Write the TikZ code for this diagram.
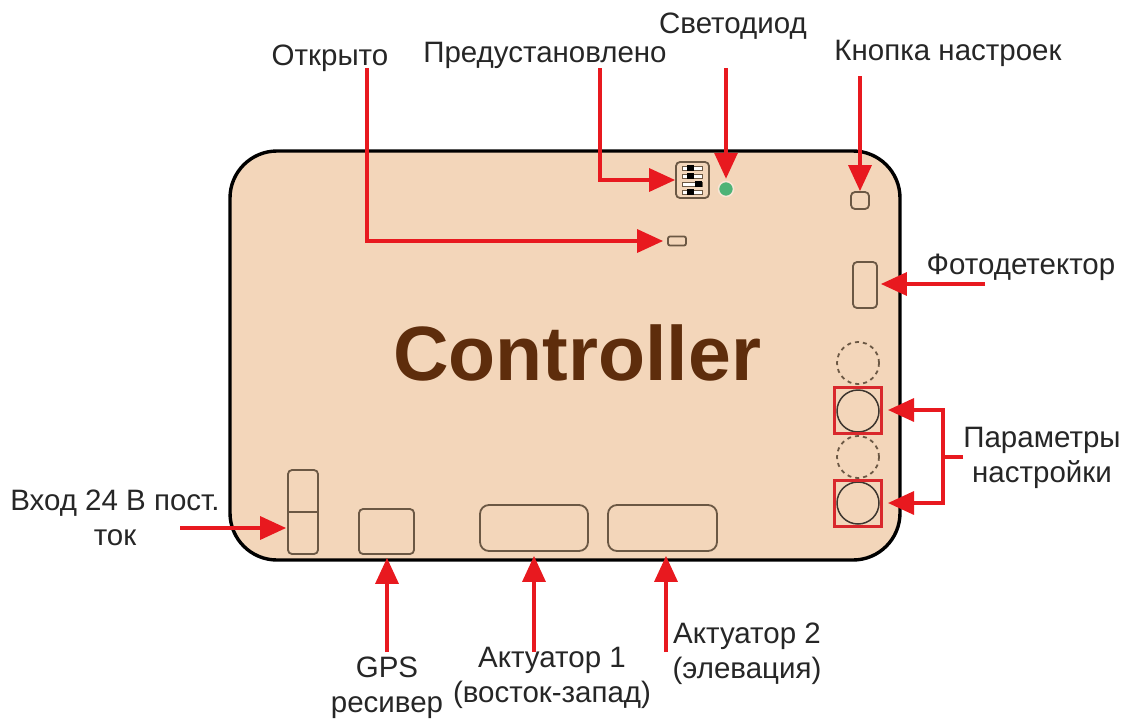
\documentclass[tikz,border=0pt]{standalone}
\usepackage{fontspec}
\setmainfont{Liberation Sans}
\usetikzlibrary{arrows.meta,positioning,calc}
\definecolor{boardfill}{HTML}{F3D6BA}
\definecolor{partline}{HTML}{6B5844}
\definecolor{wirered}{HTML}{E8191F}
\definecolor{boxred}{HTML}{D9282C}
\definecolor{ctrlbrown}{HTML}{5E2D0C}
\definecolor{ledgreen}{HTML}{4DB377}
\definecolor{lbltext}{HTML}{262626}
\tikzset{
 part/.style={draw=partline,line width=1.8pt,rounded corners=4pt,inner sep=0pt},
 knob/.style={circle,draw=black!75!boardfill,line width=1.5pt,minimum size=42pt,inner sep=0pt},
 knobdash/.style={circle,draw=partline,line width=1.8pt,dash pattern=on 4pt off 4pt,minimum size=42pt,inner sep=0pt},
 knobbox/.style={draw=boxred,line width=3pt,minimum width=47pt,minimum height=46pt,inner sep=0pt},
 wire/.style={draw=wirered,line width=3.4pt,-{Triangle[length=26pt,width=23pt]}},
 lbl/.style={text=lbltext,align=center,font=\fontsize{29.5}{35}\selectfont,inner sep=0pt}
}

\begin{document}
\begin{tikzpicture}[x=1pt,y=-1pt]
 \useasboundingbox (0,0) rectangle (1127,721);
 \draw[fill=boardfill,line width=3.4pt,rounded corners=47pt] (230,151) rectangle (900,560);
 \node[text=ctrlbrown,font=\fontsize{77}{77}\selectfont\bfseries,inner sep=0pt] (ctrl) at (577,353) {Controller};
 % parts on the board
 \node[part,minimum width=33pt,minimum height=36pt,fill=boardfill] (dip) at (692.5,180) {};
 \foreach \rowy/\slidex in {168/690,176/690,184/698,192/690} {
   \fill[white,draw=partline,line width=.3pt] (682,\rowy-2.2) rectangle (702,\rowy+2.2);
   \fill[black] (\slidex-3.5,\rowy-2.6) rectangle (\slidex+3.5,\rowy+2.6);
 }
 \node[circle,fill=ledgreen,draw=boardfill!60!white,line width=1.5pt,minimum size=15pt,inner sep=0pt] (led) at (726,189) {};
 \node[part,minimum width=18pt,minimum height=17pt] (setbtn) at (860,200.5) {};
 \node[part,minimum width=18pt,minimum height=9pt,rounded corners=2pt] (opensw) at (677,241) {};
 \node[part,minimum width=24pt,minimum height=46pt] (photo) at (865,285) {};
 \node[knobdash] (dash1) at (858,363) {};
 \node[knob] (knob1) at (858,411) {};
 \node[knobdash] (dash2) at (858,457) {};
 \node[knob] (knob2) at (858,503) {};
 \node[knobbox] (kbox1) at (858,410) {};
 \node[knobbox] (kbox2) at (858,503) {};
 \node[part,minimum width=30pt,minimum height=84pt] (power) at (303,512) {};
 \draw[partline,line width=1.8pt] (power.west) -- (power.east);
 \node[part,minimum width=55pt,minimum height=45pt] (gps) at (386.5,531.5) {};
 \node[part,minimum width=108pt,minimum height=46pt,rounded corners=9pt] (act1) at (534,528) {};
 \node[part,minimum width=109pt,minimum height=46pt,rounded corners=9pt] (act2) at (662.5,528) {};
 % labels
 \node[lbl] (lblopen) at (330,58) {Открыто};
 \node[lbl] (lblpreset) at (545,55) {Предустановлено};
 \node[lbl] (lblled) at (733,26) {Светодиод};
 \node[lbl] (lblbtn) at (948,53) {Кнопка настроек};
 \node[lbl] (lblphoto) at (1021,267) {Фотодетектор};
 \node[lbl] (lblparam) at (1042,458) {Параметры\\настройки};
 \node[lbl] (lblpower) at (115,518) {Вход 24 В пост.\\ток};
 \node[lbl] (lblgps) at (387,688) {GPS\\ресивер};
 \node[lbl] (lblact1) at (552,678) {Актуатор 1\\(восток-запад)};
 \node[lbl] (lblact2) at (747,654) {Актуатор 2\\(элевация)};
 % free ends
 \coordinate (openstart) at (367,68);
 \coordinate (presetstart) at (600,68);
 \coordinate (ledstart) at (726,68);
 \coordinate (btnstart) at (860,76);
 \coordinate (photostart) at (985,284);
 \coordinate (paramjoin) at (943,457);
 \coordinate (powerstart) at (180,528);
 \coordinate (gpsstart) at (387,652);
 \coordinate (act1start) at (534,652);
 \coordinate (act2start) at (666,652);
 % arrows
 \draw[wire,shorten >=4pt] (openstart) |- (opensw.west);
 \draw[wire] (presetstart) |- (dip.west);
 \draw[wire,shorten >=2pt] (ledstart) -- (led.north);
 \draw[wire] (btnstart) -- (setbtn.north -| btnstart);
 \draw[wire,shorten >=3pt] (photostart) -- (photo.east |- photostart);
 \draw[wire,-] (lblparam.west |- paramjoin) -- (paramjoin);
 \draw[wire,shorten >=5pt] (paramjoin) |- (kbox1.east);
 \draw[wire,shorten >=5pt] (paramjoin) |- (kbox2.east);
 \draw[wire,shorten >=1pt] (powerstart) -- (power.west |- powerstart);
 \draw[wire,shorten >=3pt] (gpsstart) -- (gps.south -| gpsstart);
 \draw[wire,shorten >=4pt] (act1start) -- (act1.south -| act1start);
 \draw[wire,shorten >=4pt] (act2start) -- (act2.south -| act2start);
\end{tikzpicture}
\end{document}
